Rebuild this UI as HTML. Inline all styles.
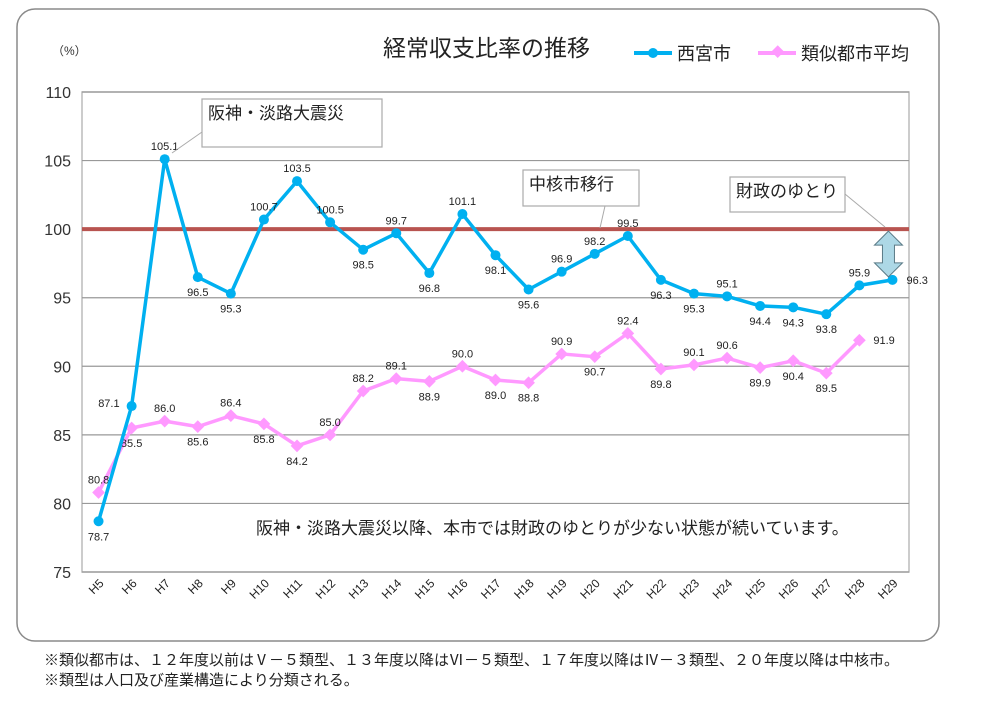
<!DOCTYPE html>
<html><head><meta charset="utf-8"><style>
body{margin:0;background:#fff;width:998px;height:697px;overflow:hidden;font-family:"Liberation Sans","Noto Sans CJK JP",sans-serif;}
svg text{font-family:"Liberation Sans","Noto Sans CJK JP",sans-serif;}
</style></head><body>
<svg id="chart" width="998" height="697">
<rect x="17" y="9" width="922" height="632" rx="18" fill="#fff" stroke="#8a8a8a" stroke-width="1.5"/>
<text x="383" y="56" font-size="23" fill="#222">経常収支比率の推移</text>
<text x="52" y="55" font-size="12" fill="#333">（%）</text>
<g>
<line x1="634" y1="53" x2="672" y2="53" stroke="#00b0f0" stroke-width="4"/>
<circle cx="653" cy="53" r="5" fill="#00b0f0"/>
<text x="677" y="60" font-size="18" fill="#222">西宮市</text>
<line x1="758" y1="53" x2="796" y2="53" stroke="#ff99ff" stroke-width="4"/>
<rect x="772" y="47" width="9" height="9" fill="#ff99ff" transform="rotate(45 777 53)"/>
<text x="801" y="60" font-size="18" fill="#222">類似都市平均</text>
</g>
<text x="44" y="665" font-size="15" fill="#222">※類似都市は、１２年度以前はⅤ－５類型、１３年度以降はⅥ－５類型、１７年度以降はⅣ－３類型、２０年度以降は中核市。</text>
<text x="44" y="685" font-size="15" fill="#222">※類型は人口及び産業構造により分類される。</text>
</svg>
<script>
const categories=["H5","H6","H7","H8","H9","H10","H11","H12","H13","H14","H15","H16","H17","H18","H19","H20","H21","H22","H23","H24","H25","H26","H27","H28","H29"];
const nishinomiya=[78.7,87.1,105.1,96.5,95.3,100.7,103.5,100.5,98.5,99.7,96.8,101.1,98.1,95.6,96.9,98.2,99.5,96.3,95.3,95.1,94.4,94.3,93.8,95.9,96.3];
const similarAvg=[80.8,85.5,86.0,85.6,86.4,85.8,84.2,85.0,88.2,89.1,88.9,90.0,89.0,88.8,90.9,90.7,92.4,89.8,90.1,90.6,89.9,90.4,89.5,91.9];
const nishiLabelPos=["b","l","a","b","b","a","a","a","b","a","b","a","b","b","a","a","a","b","b","a","b","b","b","a","r"];
const avgLabelPos=["a","b","a","b","a","b","b","a","a","a","b","a","b","b","a","b","a","b","a","a","b","b","b","r"];
const yTicks=[75,80,85,90,95,100,105,110];
const svg=document.getElementById('chart');
const NS='http://www.w3.org/2000/svg';
const L=82,R=909,T=92,B=572,ymin=75,ymax=110;
const bw=(R-L)/categories.length;
const x=i=>L+bw*(i+0.5);
const y=v=>B-(v-ymin)/(ymax-ymin)*(B-T);
function mk(tag,attrs,parent){const e=document.createElementNS(NS,tag);for(const k in attrs)e.setAttribute(k,attrs[k]);(parent||svg).appendChild(e);return e;}
const plot=mk('rect',{x:L,y:T,width:R-L,height:B-T,fill:'none',stroke:'#bbb','stroke-width':1.5});


yTicks.forEach(t=>{
 const g=mk('line',{x1:L,x2:R,y1:y(t),y2:y(t),stroke:'#999','stroke-width':1.2});
 
 
 const tx=mk('text',{x:71,y:y(t)+6,'font-size':16,'text-anchor':'end',fill:'#333'});tx.textContent=t;
 
 
});
categories.forEach((c,i)=>{
 const tx=mk('text',{x:x(i)+6,y:B+12,'font-size':12,'text-anchor':'end',fill:'#222',transform:`rotate(-45 ${x(i)+6} ${B+12})`});tx.textContent=c;
 
 
});
const ref=mk('line',{x1:L,x2:R,y1:y(100),y2:y(100),stroke:'#b85450','stroke-width':4});


function series(vals,color,marker,name,pos){
 const pl=mk('polyline',{points:vals.map((v,i)=>x(i)+','+y(v)).join(' '),fill:'none',stroke:color,'stroke-width':3.5,'stroke-linejoin':'round'});
 
 
 vals.forEach((v,i)=>{
  let m;
  if(marker==='c')m=mk('circle',{cx:x(i),cy:y(v),r:5,fill:color});
  else m=mk('rect',{x:x(i)-4.5,y:y(v)-4.5,width:9,height:9,fill:color,transform:`rotate(45 ${x(i)} ${y(v)})`});
  
  
  const p=pos[i];let lx=x(i),ly=y(v),anc='middle';
  if(p==='a')ly-=9;else if(p==='b')ly+=19;else if(p==='r'){lx+=14;ly+=4;anc='start';}else{lx-=12;ly+=1;anc='end';}
  const tx=mk('text',{x:lx,y:ly,'font-size':11,'text-anchor':anc,fill:'#222'});tx.textContent=v.toFixed(1);
  
  
 });
}
series(similarAvg,'#ff99ff','d','similar-avg',avgLabelPos);
series(nishinomiya,'#00b0f0','c','nishinomiya',nishiLabelPos);
function callout(bx,by,w,h,text,px,py,qx,qy,name){
 mk('line',{x1:px,y1:py,x2:qx,y2:qy,stroke:'#aaa','stroke-width':1});
 const r=mk('rect',{x:bx,y:by,width:w,height:h,fill:'#fff',stroke:'#aaa','stroke-width':1.2});
 
 
 const t=mk('text',{x:bx+6,y:by+20,'font-size':17,fill:'#222'});t.textContent=text;
 
 
}
callout(202,99,180,48,'阪神・淡路大震災',202,132,172,153,'callout-earthquake');
callout(523,170,116,36,'中核市移行',605,206,600,228,'callout-core-city');
callout(730,177,115,35,'財政のゆとり',845,194,885,227,'callout-fiscal-margin');
const ax=x(24)-4, ay1=y(100)+2, ay2=y(96.3)-3;
const ar=mk('polygon',{points:`${ax},${ay1} ${ax+14},${ay1+14} ${ax+6},${ay1+14} ${ax+6},${ay2-14} ${ax+14},${ay2-14} ${ax},${ay2} ${ax-14},${ay2-14} ${ax-6},${ay2-14} ${ax-6},${ay1+14} ${ax-14},${ay1+14}`,fill:'#add8e6',stroke:'#5a7a86','stroke-width':1});


const note=mk('text',{x:256,y:534,'font-size':17,fill:'#222'});note.textContent='阪神・淡路大震災以降、本市では財政のゆとりが少ない状態が続いています。';


</script>
</body></html>
